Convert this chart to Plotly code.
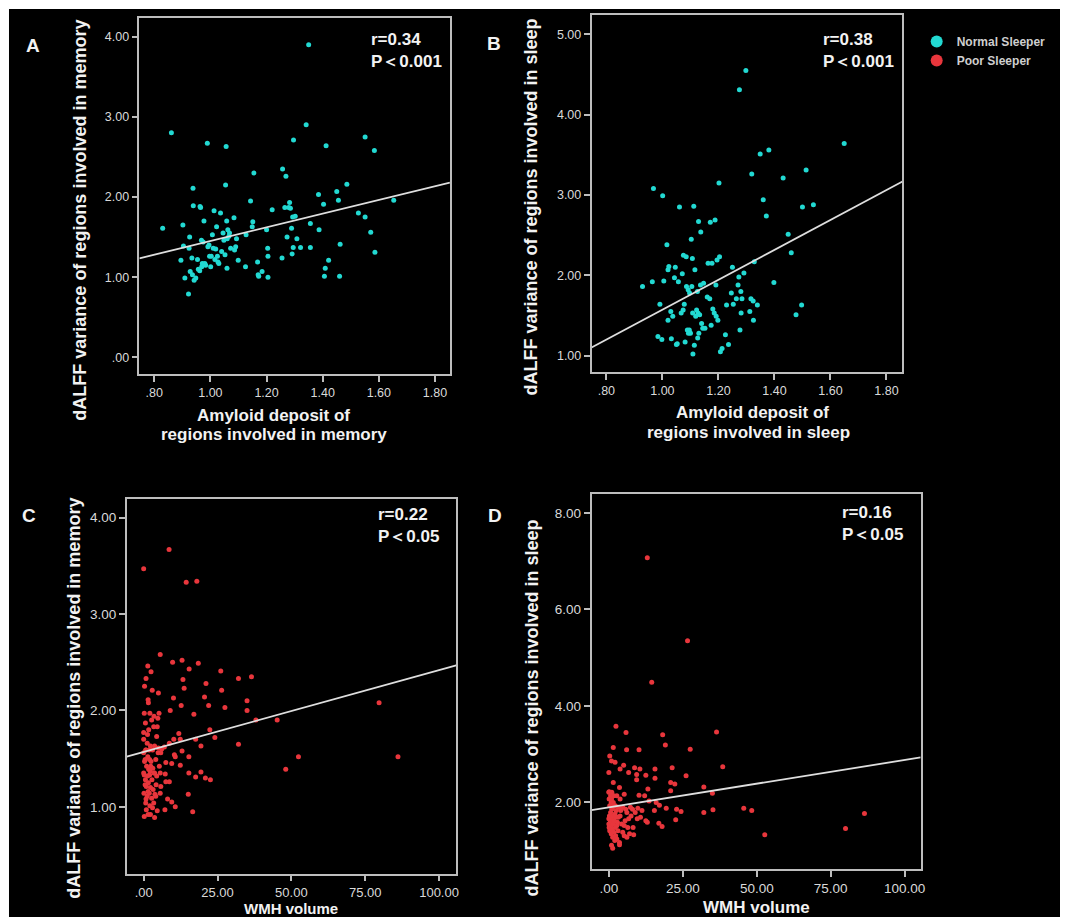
import plotly.graph_objects as go

# The page body has an 8px margin, so the figure is drawn 8px in from the
# top-left corner of the window; all pixel positions below are window pixels.
OFF = 8
FW, FH = 1060, 909
FONT = "Arial, 'Liberation Sans', sans-serif"
CYAN = "#22d9d2"
RED = "#e8363c"

# ---------------- data ----------------
# Panel A: amyloid (memory regions) vs dALFF variance (memory), Normal Sleeper
A_x = [0.830, 0.861, 0.895, 0.902, 0.904, 0.909, 0.922, 0.924, 0.926, 0.928,
       0.934, 0.936, 0.938, 0.939, 0.942, 0.948, 0.954, 0.957, 0.962, 0.963,
       0.965, 0.968, 0.969, 0.971, 0.974, 0.977, 0.980, 0.983, 0.989, 0.991,
       0.995, 0.997, 1.001, 1.003, 1.007, 1.010, 1.013, 1.016, 1.019, 1.022,
       1.025, 1.027, 1.030, 1.036, 1.040, 1.045, 1.048, 1.052, 1.054, 1.056,
       1.058, 1.059, 1.060, 1.062, 1.066, 1.068, 1.072, 1.084, 1.086, 1.090,
       1.093, 1.099, 1.125, 1.127, 1.143, 1.149, 1.151, 1.155, 1.168, 1.170,
       1.172, 1.184, 1.200, 1.204, 1.205, 1.205, 1.220, 1.255, 1.257, 1.265,
       1.269, 1.273, 1.279, 1.282, 1.285, 1.289, 1.291, 1.293, 1.295, 1.296,
       1.302, 1.308, 1.321, 1.341, 1.350, 1.356, 1.356, 1.385, 1.387, 1.403,
       1.406, 1.409, 1.412, 1.421, 1.450, 1.456, 1.460, 1.462, 1.486, 1.527,
       1.551, 1.551, 1.571, 1.584, 1.586, 1.653]
A_y = [1.61, 2.80, 1.21, 1.65, 1.39, 0.99, 0.79, 1.36, 1.50, 1.07,
       1.24, 1.03, 2.11, 1.89, 0.96, 0.99, 1.22, 1.10, 1.08, 1.88,
       1.87, 1.46, 1.13, 1.17, 1.44, 1.70, 1.17, 1.15, 2.67, 1.38,
       1.40, 1.26, 1.13, 1.26, 1.53, 1.36, 1.83, 1.22, 1.35, 1.63,
       1.26, 1.19, 1.17, 1.80, 1.32, 1.55, 1.46, 1.28, 2.15, 2.63,
       1.70, 1.11, 1.48, 1.59, 1.51, 1.55, 1.36, 1.74, 1.34, 1.38,
       1.48, 1.21, 1.13, 1.53, 1.95, 1.63, 1.69, 2.30, 1.19, 1.03,
       1.01, 1.07, 1.59, 1.36, 1.00, 1.26, 1.84, 1.24, 2.35, 1.87,
       2.26, 1.50, 1.87, 1.93, 1.86, 1.61, 1.29, 1.75, 1.37, 2.71,
       1.76, 1.48, 1.37, 2.90, 3.90, 1.67, 1.37, 2.03, 1.59, 1.91,
       1.01, 1.11, 2.64, 1.21, 2.07, 1.96, 1.01, 1.41, 2.16, 1.80,
       1.75, 2.75, 1.56, 2.58, 1.31, 1.96]

# Panel B: amyloid (sleep regions) vs dALFF variance (sleep), Normal Sleeper
B_x = [0.929, 0.964, 0.968, 0.984, 0.991, 0.998, 1.001, 1.005, 1.016, 1.020,
       1.020, 1.023, 1.030, 1.032, 1.037, 1.043, 1.046, 1.050, 1.053, 1.057,
       1.061, 1.067, 1.071, 1.074, 1.075, 1.078, 1.081, 1.085, 1.086, 1.089,
       1.092, 1.093, 1.096, 1.097, 1.098, 1.100, 1.103, 1.105, 1.107, 1.108,
       1.109, 1.112, 1.114, 1.116, 1.119, 1.122, 1.125, 1.126, 1.127, 1.129,
       1.130, 1.133, 1.136, 1.137, 1.140, 1.144, 1.147, 1.152, 1.160, 1.163,
       1.169, 1.171, 1.174, 1.177, 1.180, 1.185, 1.188, 1.191, 1.192, 1.195,
       1.198, 1.202, 1.204, 1.207, 1.213, 1.225, 1.229, 1.236, 1.246, 1.250,
       1.253, 1.264, 1.270, 1.273, 1.275, 1.277, 1.280, 1.281, 1.284, 1.291,
       1.298, 1.312, 1.316, 1.319, 1.324, 1.325, 1.328, 1.339, 1.349, 1.360,
       1.371, 1.380, 1.398, 1.431, 1.449, 1.460, 1.477, 1.497, 1.500, 1.513,
       1.539, 1.649]
B_y = [1.86, 1.92, 3.08, 1.24, 1.64, 1.20, 2.99, 1.93, 2.38, 2.07,
       1.44, 2.11, 1.55, 1.21, 1.49, 1.97, 2.10, 1.14, 1.15, 1.92,
       2.85, 1.53, 2.02, 1.57, 2.25, 1.64, 1.17, 2.23, 1.86, 1.32,
       1.82, 1.28, 1.32, 1.78, 1.29, 1.28, 2.45, 1.86, 2.21, 1.53,
       1.02, 2.86, 1.13, 2.07, 1.49, 1.57, 1.80, 1.22, 1.53, 2.67,
       1.28, 1.51, 1.88, 2.54, 1.40, 1.34, 1.90, 1.34, 1.73, 2.15,
       1.71, 2.66, 1.38, 2.15, 1.58, 1.53, 2.69, 1.88, 1.49, 2.19,
       1.44, 3.15, 2.23, 1.05, 1.09, 1.26, 1.63, 1.14, 1.78, 2.10,
       1.64, 1.71, 1.88, 1.98, 4.31, 1.32, 1.80, 1.53, 1.71, 2.03,
       4.55, 1.55, 1.71, 3.26, 1.68, 1.44, 2.17, 1.63, 3.51, 2.94,
       2.74, 3.56, 1.91, 3.21, 2.51, 2.28, 1.51, 1.63, 2.85, 3.31,
       2.88, 3.64]

# Panel C: WMH volume vs dALFF variance (memory), Poor Sleeper
C_x = [0.0, 8.6, 14.4, 18.0, 5.6, 9.8, 13.0, 18.5, 15.4, 26.1,
       36.5, 32.1, 13.3, 21.1, 13.7, 26.4, 5.0, 20.6, 10.1, 35.0,
       22.0, 12.7, 27.5, 9.0, 35.0, 17.0, 45.2, 38.0, 22.4, 24.1,
       11.9, 10.2, 12.4, 17.6, 8.7, 32.1, 19.4, 6.1, 7.0, 13.0,
       10.4, 10.7, 15.3, 52.4, 86.1, 79.7, 48.1, 5.8, 7.5, 9.5,
       12.4, 7.3, 15.3, 5.6, 19.4, 17.6, 20.9, 22.6, 7.5, 8.7,
       5.8, 15.1, 8.1, 9.5, 10.7, 7.2, 4.6, 16.6, 3.7,
       0.0, 0.2, 0.3, 0.6, 0.8, 1.2, 1.4, 1.5, 1.7, 2.0,
       2.3, 2.5, 2.7, 2.9, 3.1, 3.4, 3.5, 3.7, 4.1, 4.4,
       4.6, 4.9, 5.2, 0.0, 0.0, 0.1, 0.2, 0.5, 0.6, 0.7,
       0.8, 0.9, 1.0, 1.2, 1.3, 1.4, 1.5, 1.6, 1.7, 1.9,
       2.0, 2.1, 2.3, 2.4, 2.7, 2.8, 3.0, 3.2, 3.5, 3.8,
       4.2, 0.0, 0.3, 0.7, 0.9, 1.3, 1.6, 2.1, 2.3, 0.5,
       0.2, 0.8, 1.5, 1.9, 2.2, 2.5, 3.0, 3.4, 3.7, 4.1,
       4.4, 4.8, 5.0, 5.3, 5.6]
C_y = [3.47, 3.67, 3.33, 3.34, 2.58, 2.50, 2.52, 2.49, 2.43, 2.41,
       2.35, 2.33, 2.32, 2.28, 2.23, 2.21, 2.18, 2.14, 2.13, 2.10,
       2.05, 2.05, 2.03, 2.00, 2.00, 1.96, 1.90, 1.90, 1.80, 1.72,
       1.76, 1.70, 1.70, 1.70, 1.66, 1.65, 1.63, 1.60, 1.62, 1.58,
       1.54, 1.52, 1.52, 1.52, 1.52, 2.08, 1.39, 1.56, 1.46, 1.45,
       1.43, 1.34, 1.35, 1.35, 1.36, 1.31, 1.30, 1.28, 1.26, 1.26,
       1.21, 1.13, 1.08, 1.05, 1.00, 0.97, 0.96, 0.95, 0.89,
       1.77, 1.97, 2.25, 1.87, 2.33, 1.66, 2.46, 2.11, 1.80, 1.49,
       1.63, 2.40, 1.90, 2.21, 1.40, 1.83, 1.94, 1.63, 1.49, 1.32,
       1.83, 1.56, 1.97, 1.56, 1.35, 1.14, 0.90, 1.49, 1.28, 1.04,
       1.59, 1.21, 1.42, 1.11, 1.32, 1.52, 0.92, 1.25, 1.39, 1.14,
       1.33, 1.01, 1.20, 1.42, 1.09, 1.28, 0.99, 1.18, 1.35, 1.13,
       1.23, 1.70, 1.47, 1.59, 0.97, 1.75, 2.08, 1.97, 0.92, 1.23,
       1.33, 1.08, 1.16, 1.59, 1.37, 1.47, 1.59, 1.04, 1.35, 1.11,
       1.73, 1.92, 1.61, 1.42, 1.14]

# Panel D: WMH volume vs dALFF variance (sleep), Poor Sleeper
D_x = [13.0, 26.6, 14.5, 2.4, 36.4, 5.8, 18.2, 19.1, 1.5, 6.0,
       10.2, 27.5, 0.3, 0.9, 2.1, 38.5, 21.4, 15.6, 8.7, 10.5,
       5.0, 3.8, 0.0, 6.7, 9.4, 12.5, 26.1, 15.6, 9.4, 1.5,
       20.9, 22.3, 3.6, 13.2, 32.1, 0.1, 20.9, 35.0, 5.2, 10.2,
       12.1, 0.9, 3.8, 1.5, 13.6, 16.0, 17.1, 7.3, 9.8, 19.4,
       22.9, 24.4, 45.6, 48.3, 35.2, 32.1, 86.4, 80.0, 52.7, 15.4,
       12.5, 13.0, 16.9, 18.0, 22.6, 8.2, 8.4, 6.1, 5.5, 6.7,
       5.2, 6.1, 3.6, 3.6, 2.7, 3.2, 4.0, 4.7, 1.3, 0.9,
       0.0, 0.0, 0.1, 0.2, 0.3, 0.5, 0.6, 0.7, 0.8, 0.9,
       1.0, 1.2, 1.3, 1.4, 1.5, 1.6, 1.7, 1.8, 2.0, 2.1,
       2.2, 2.3, 2.4, 2.5, 2.7, 2.9, 3.1, 0.0, 0.1, 0.3,
       0.6, 0.8, 1.0, 1.3, 1.7, 2.2, 2.7, 3.3, 3.8, 4.3,
       4.7, 5.2, 5.7, 6.4, 7.0, 7.5, 8.0, 8.9, 9.6, 10.7,
       11.2]
D_y = [7.07, 5.35, 4.49, 3.58, 3.46, 3.45, 3.40, 3.19, 3.14, 3.09,
       3.09, 3.10, 2.96, 2.86, 2.83, 2.74, 2.72, 2.69, 2.72, 2.69,
       2.77, 2.69, 2.62, 2.62, 2.58, 2.56, 2.55, 2.50, 2.47, 2.41,
       2.41, 2.38, 2.31, 2.28, 2.32, 2.22, 2.24, 2.19, 2.17, 2.15,
       2.14, 2.07, 2.07, 2.00, 2.03, 2.00, 1.94, 1.90, 1.88, 1.88,
       1.86, 1.81, 1.88, 1.83, 1.85, 1.79, 1.77, 1.46, 1.33, 1.83,
       1.62, 1.59, 1.57, 1.50, 1.64, 1.48, 1.33, 1.79, 1.62, 1.66,
       1.31, 1.28, 1.12, 1.17, 1.52, 1.69, 1.83, 1.90, 1.05, 1.11,
       1.66, 1.55, 1.48, 1.72, 1.41, 1.59, 1.79, 1.52, 1.35, 1.66,
       1.86, 1.45, 1.28, 1.72, 1.55, 1.93, 1.38, 1.62, 1.21, 1.76,
       1.48, 1.31, 1.69, 1.83, 1.24, 1.59, 1.41, 2.21, 2.07, 1.93,
       2.14, 2.00, 2.21, 1.90, 2.14, 1.93, 2.14, 1.90, 1.72, 1.55,
       1.38, 1.52, 1.86, 1.48, 1.35, 1.72, 1.86, 1.79, 1.66, 1.69,
       1.83]

# fitted regression lines (intercept, slope)
FIT_A = [0.597, 0.854]
FIT_B = [-0.289, 1.861]
FIT_C = [1.570, 0.00847]
FIT_D = [1.898, 0.00981]

STATS = ["r=0.34<br>P＜0.001", "r=0.38<br>P＜0.001",
         "r=0.22<br>P＜0.05", "r=0.16<br>P＜0.05"]

AMY_TICKS = [0.8, 1.0, 1.2, 1.4, 1.6, 1.8]
AMY_TEXT = [".80", "1.00", "1.20", "1.40", "1.60", "1.80"]
WMH_TICKS = [0, 25, 50, 75, 100]
WMH_TEXT = [".00", "25.00", "50.00", "75.00", "100.00"]
A_YTICKS = [0, 1, 2, 3, 4]
A_YTEXT = [".00", "1.00", "2.00", "3.00", "4.00"]
B_YTICKS = [1, 2, 3, 4, 5]
B_YTEXT = ["1.00", "2.00", "3.00", "4.00", "5.00"]
C_YTICKS = [1, 2, 3, 4]
C_YTEXT = ["1.00", "2.00", "3.00", "4.00"]
D_YTICKS = [2, 4, 6, 8]
D_YTEXT = ["2.00", "4.00", "6.00", "8.00"]


# ---------------- layout helpers ----------------
def px(x):
    return (x - OFF) / FW


def py(y):
    return 1 - (y - OFF) / FH


RANGES = {
    "x": [0.747, 1.853], "y": [-0.208, 4.233],
    "x2": [0.747, 1.857], "y2": [0.797, 5.24],
    "x3": [-5.73, 105.8], "y3": [0.30, 4.19],
    "x4": [-5.85, 105.4], "y4": [0.62, 8.39],
}

fig = go.Figure()


def add_panel(xs, ys, fit, color, name, show, xa, ya):
    fig.add_trace(go.Scatter(
        x=xs, y=ys, mode="markers", name=name, legendgroup=name,
        showlegend=show, xaxis=xa, yaxis=ya,
        marker=dict(color=color, size=5, line=dict(width=0)),
    ))
    xr = RANGES[xa]
    fig.add_trace(go.Scatter(
        x=xr, y=[fit[0] + fit[1] * v for v in xr], mode="lines",
        showlegend=False, xaxis=xa, yaxis=ya, hoverinfo="skip",
        line=dict(color="#dedede", width=1.8),
    ))


add_panel(A_x, A_y, FIT_A, CYAN, "Normal Sleeper", True, "x", "y")
add_panel(B_x, B_y, FIT_B, CYAN, "Normal Sleeper", False, "x2", "y2")
add_panel(C_x, C_y, FIT_C, RED, "Poor Sleeper", True, "x3", "y3")
add_panel(D_x, D_y, FIT_D, RED, "Poor Sleeper", False, "x4", "y4")

LINE = "#bdbdbd"
TICKC = "#dadada"


def axis(domain, rng, tv, tt, anchor, size, ticklen=6):
    return dict(
        domain=domain, range=rng, tickvals=tv, ticktext=tt, anchor=anchor,
        showgrid=False, zeroline=False, showline=True, mirror=True,
        linecolor=LINE, linewidth=1.5, ticks="outside", ticklen=ticklen,
        tickwidth=1.5, tickcolor=LINE,
        tickfont=dict(family=FONT, size=size, color=TICKC),
    )


fig.update_layout(
    width=FW, height=FH, margin=dict(l=0, r=0, t=0, b=0),
    paper_bgcolor="white", plot_bgcolor="black",
    xaxis=axis([px(140), px(452)], RANGES["x"], AMY_TICKS, AMY_TEXT, "y", 12.5),
    yaxis=axis([py(374), py(18)], RANGES["y"], A_YTICKS, A_YTEXT, "x", 12.5),
    xaxis2=axis([px(594.3), px(906.7)], RANGES["x2"], AMY_TICKS, AMY_TEXT, "y2", 12.5),
    yaxis2=axis([py(372), py(15)], RANGES["y2"], B_YTICKS, B_YTEXT, "x2", 12.5),
    xaxis3=axis([px(127.3), px(458.3)], RANGES["x3"], WMH_TICKS, WMH_TEXT, "y3", 13, 5),
    yaxis3=axis([py(874.3), py(499.3)], RANGES["y3"], C_YTICKS, C_YTEXT, "x3", 13.5),
    xaxis4=axis([px(594.3), px(925)], RANGES["x4"], WMH_TICKS, WMH_TEXT, "y4", 13.5),
    yaxis4=axis([py(869), py(494)], RANGES["y4"], D_YTICKS, D_YTEXT, "x4", 13.5),
    showlegend=True,
    legend=dict(
        x=px(921), y=py(27), xanchor="left", yanchor="top",
        bgcolor="rgba(0,0,0,0)", borderwidth=0, itemsizing="constant",
        itemwidth=30, tracegroupgap=0,
        font=dict(family=FONT, size=12, color="#cfcfcf", weight="bold"),
    ),
)

# black canvas behind everything
fig.add_shape(type="rect", xref="paper", yref="paper",
              x0=px(9), x1=1, y0=0, y1=py(9),
              fillcolor="black", line=dict(width=0), layer="below")

ann = []


def text(x, y, s, size, color="#f2f2f2", angle=0, xanchor="center",
         align="center", weight="bold"):
    ann.append(dict(
        x=px(x), y=py(y), xref="paper", yref="paper", text=s,
        showarrow=False, textangle=angle, xanchor=xanchor, yanchor="middle",
        align=align, font=dict(family=FONT, size=size, color=color,
                               weight=weight)))


# panel letters
text(33, 45, "A", 19)
text(496, 43, "B", 19)
text(29, 516, "C", 19)
text(497, 516, "D", 19)

# stats
text(371, 50.5, STATS[0], 17, xanchor="left", align="left")
text(825, 50.5, STATS[1], 17, xanchor="left", align="left")
text(378, 525, STATS[2], 17, xanchor="left", align="left")
text(844, 523, STATS[3], 17, xanchor="left", align="left")

# y titles
text(80, 220, "dALFF variance of regions involved in memory", 18, angle=-90)
text(533, 207, "dALFF variance of regions involved in sleep", 18, angle=-90)
text(74, 698, "dALFF variance of regions involved in memory", 18, angle=-90)
text(534, 708, "dALFF variance of regions involved in sleep", 18, angle=-90)

# x titles
text(275, 415, "Amyloid deposit of", 17)
text(275, 434, "regions involved in memory", 17)
text(756, 413, "Amyloid deposit of", 17)
text(752, 433, "regions involved in sleep", 17)
text(292, 908.5, "WMH volume", 15)
text(760, 907, "WMH volume", 17)

fig.update_layout(annotations=ann)

fig.write_html("out.html")
